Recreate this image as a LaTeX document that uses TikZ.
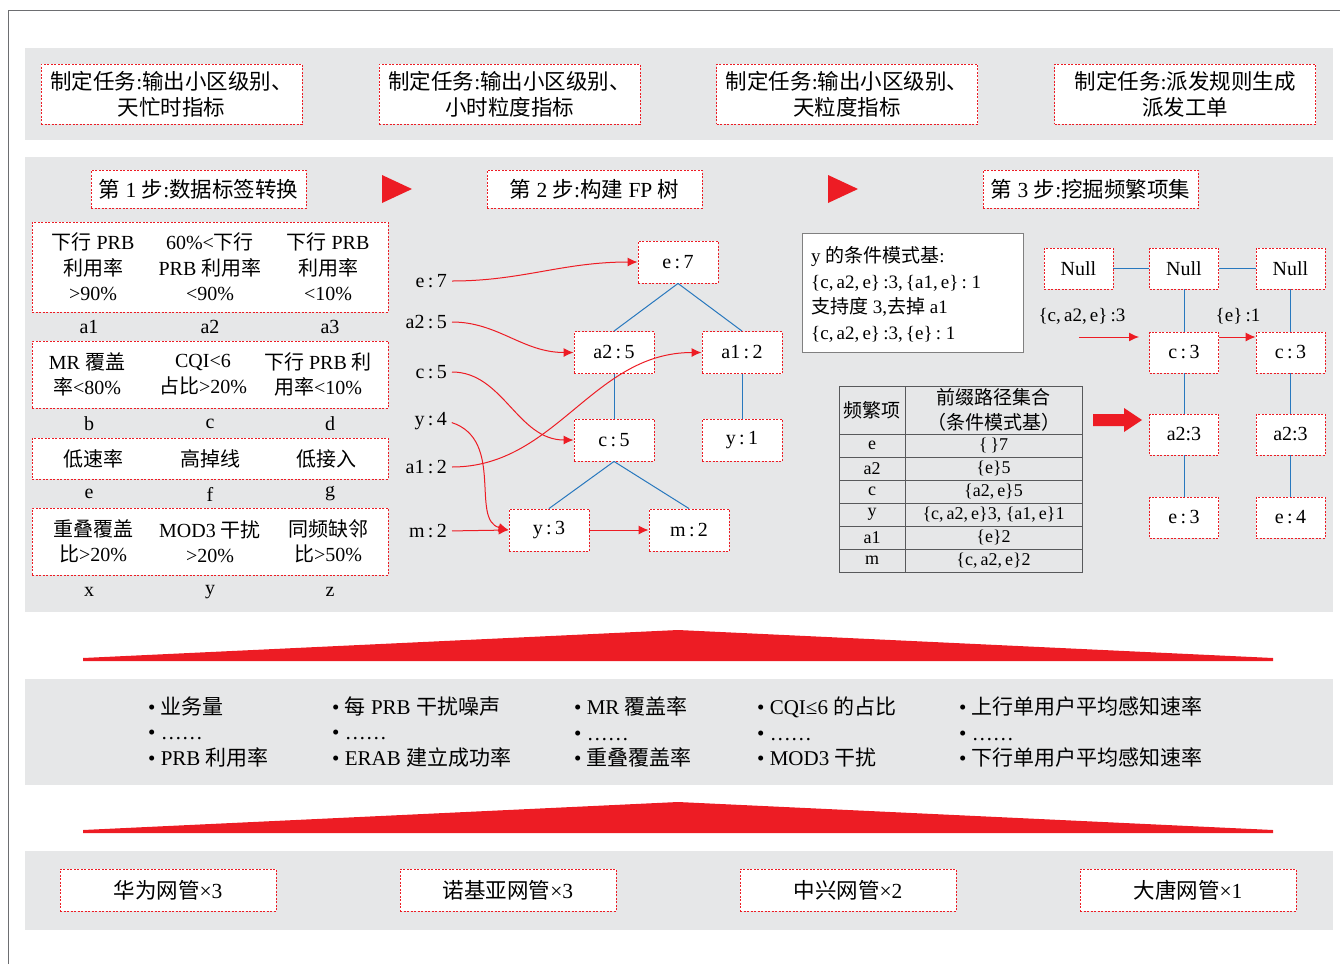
\documentclass[tikz,border=0pt]{standalone}
\usepackage{fontspec}
\setmainfont{Liberation Serif}
\newfontfamily\cjk{Noto Sans CJK SC}
\usetikzlibrary{arrows.meta}
\XeTeXinterchartokenstate=1
\newXeTeXintercharclass\CJKcls
\newcount\cjkc
\def\setcjkrange#1#2{\cjkc=#1 \loop\XeTeXcharclass\cjkc=\CJKcls\relax\ifnum\cjkc<#2 \advance\cjkc by 1 \repeat}
\setcjkrange{"3000}{"303F}
\setcjkrange{"4E00}{"9FFF}
\setcjkrange{"FF00}{"FFEF}
\XeTeXinterchartoks 0 \CJKcls = {\cjk}
\XeTeXinterchartoks 4095 \CJKcls = {\cjk}
\XeTeXinterchartoks \CJKcls 0 = {\rmfamily}
\XeTeXinterchartoks \CJKcls 4095 = {\rmfamily}
\definecolor{bandgray}{HTML}{E6E7E8}
\definecolor{myred}{HTML}{ED1C24}
\definecolor{treeblue}{HTML}{2878BE}
\definecolor{framegray}{HTML}{6D6E71}
\definecolor{tabgray}{HTML}{58595B}
\begin{document}
\begin{tikzpicture}[x=1pt,y=-1pt,
  rbox/.style={draw=myred, line width=0.9pt, dash pattern=on 2pt off 1.5pt, fill=white, inner sep=0pt, align=center},
  band/.style={fill=bandgray, draw=none},
  tl/.style={draw=treeblue, line width=1pt},
  rarr/.style={draw=myred, line width=1pt, -{Latex[length=10pt,width=9pt]}},
  big/.style={font=\fontsize{21.5}{26}\selectfont},
  mid/.style={font=\fontsize{20}{25.5}\selectfont},
  tree/.style={font=\fontsize{20}{23}\selectfont},
  tab/.style={font=\fontsize{18}{24}\selectfont},
  plain/.style={inner sep=0pt, align=center},
  fpnode/.style={rbox, tree, minimum width=80, minimum height=42},
  rtnode/.style={rbox, tree, minimum width=69, minimum height=41},
  topbox/.style={rbox, big, minimum width=261, minimum height=60},
  stepbox/.style={rbox, big, minimum width=215, minimum height=38},
  nmbox/.style={rbox, big, minimum width=216, minimum height=42},
  tabline/.style={draw=tabgray, line width=1pt},
  bullets/.style={inner sep=0pt, align=left, anchor=west, font=\fontsize{21}{25.5}\selectfont}
]
\useasboundingbox (0,0) rectangle (1340,964);
% frame
\draw[framegray, line width=1pt] (8,964) -- (8,10) -- (1340,10);
% bands
\path[band] (25,48) rectangle (1333,140);
\path[band] (25,157) rectangle (1333,612);
\path[band] (25,679) rectangle (1333,785);
\path[band] (25,851) rectangle (1333,930);
% top boxes
\node[topbox] (t1) at (171.5,94) {制定任务:输出小区级别、\\天忙时指标};
\node[topbox] (t2) at (509.5,94) {制定任务:输出小区级别、\\小时粒度指标};
\node[topbox] (t3) at (847,94) {制定任务:输出小区级别、\\天粒度指标};
\node[topbox] (t4) at (1185,94) {制定任务:派发规则生成\\派发工单};
% steps
\node[stepbox] (s1) at (198.5,189) {第 1 步:数据标签转换};
\node[stepbox] (s2) at (594.5,189) {第 2 步:构建 FP 树};
\node[stepbox] (s3) at (1090.5,189) {第 3 步:挖掘频繁项集};
\fill[myred] (382,175) -- (412,189) -- (382,203) -- cycle;
\fill[myred] (828,175) -- (858,189) -- (828,203) -- cycle;
% left label tables
\node[rbox, minimum width=356, minimum height=90] (lb1) at (210,267) {};
\node[plain,mid] (c11) at (93,267) {下行 PRB\\利用率\\>90\%};
\node[plain,mid] (c12) at (210,267) {60\%<下行\\PRB 利用率\\<90\%};
\node[plain,mid] (c13) at (328,267) {下行 PRB\\利用率\\<10\%};
\node[plain,mid] (la1) at (89,327) {a1};
\node[plain,mid] (la2) at (210,327) {a2};
\node[plain,mid] (la3) at (330,327) {a3};
\node[rbox, minimum width=356, minimum height=67] (lb2) at (210,374.5) {};
\node[plain,mid] (c21) at (87,374.5) {MR 覆盖\\率<80\%};
\node[plain,mid] (c22) at (203,374.5) {CQI<6\\占比>20\%};
\node[plain,mid] (c23) at (318,374.5) {下行 PRB 利\\用率<10\%};
\node[plain,mid] (lb) at (89,424) {b};
\node[plain,mid] (lc) at (210,424) {c};
\node[plain,mid] (ld) at (330,424) {d};
\node[rbox, minimum width=356, minimum height=41] (lb3) at (210,458.5) {};
\node[plain,mid] (c31) at (93,459) {低速率};
\node[plain,mid] (c32) at (210,459) {高掉线};
\node[plain,mid] (c33) at (326,459) {低接入};
\node[plain,mid] (le) at (89,494) {e};
\node[plain,mid] (lf) at (210,494) {f};
\node[plain,mid] (lg) at (330,494) {g};
\node[rbox, minimum width=356, minimum height=67] (lb4) at (210,541.5) {};
\node[plain,mid] (c41) at (93,541.5) {重叠覆盖\\比>20\%};
\node[plain,mid] (c42) at (210,541.5) {MOD3 干扰\\>20\%};
\node[plain,mid] (c43) at (328,541.5) {同频缺邻\\比>50\%};
\node[plain,mid] (lx) at (89,592) {x};
\node[plain,mid] (ly) at (210,592) {y};
\node[plain,mid] (lz) at (330,592) {z};
% FP tree
\node[fpnode] (fe7) at (678,262) {e\,:\,7};
\node[fpnode] (fa25) at (614,352.5) {a2\,:\,5};
\node[fpnode] (fa12) at (742,352.5) {a1\,:\,2};
\node[fpnode] (fc5) at (614,440) {c\,:\,5};
\node[fpnode] (fy1) at (742,440) {y\,:\,1};
\node[fpnode] (fy3) at (549,530) {y\,:\,3};
\node[fpnode] (fm2) at (689,530) {m\,:\,2};
\draw[tl] (fe7.south) -- (fa25.north);
\draw[tl] (fe7.south) -- (fa12.north);
\draw[tl] (fa25.south) -- (fc5.north);
\draw[tl] (fa12.south) -- (fy1.north);
\draw[tl] (fc5.south) -- (fy3.north);
\draw[tl] (fc5.south) -- (fm2.north);
\node[plain,tree,anchor=east] (ke7) at (447,281) {e\,:\,7};
\node[plain,tree,anchor=east] (ka25) at (447,322) {a2\,:\,5};
\node[plain,tree,anchor=east] (kc5) at (447,372) {c\,:\,5};
\node[plain,tree,anchor=east] (ky4) at (447,421) {y\,:\,4};
\node[plain,tree,anchor=east] (ka12) at (447,467) {a1\,:\,2};
\node[plain,tree,anchor=east] (km2) at (447,531) {m\,:\,2};
\draw[rarr, shorten <=5pt] (ke7.east) to[out=0,in=180] (fe7.west);
\draw[rarr, shorten <=5pt] (ka25.east) to[out=0,in=180] (fa25.west);
\draw[rarr, shorten <=5pt] (kc5.east) to[out=0,in=180] (fc5.west);
\draw[rarr, shorten <=5pt] (ky4.east) .. controls (505,440) and (470,520) .. (fy3.west);
\draw[rarr, shorten <=5pt] (ka12.east) to[out=0,in=180] (fa12.west);
\draw[rarr, shorten <=5pt] (km2.east) -- (fy3.west);
\draw[rarr] (fy3.east) -- (fm2.west);
% conditional pattern base
\node[draw=gray, line width=1pt, fill=white, minimum width=221, minimum height=119, inner sep=0pt] (cpb) at (912.5,292.5) {};
\node[inner sep=0pt, align=left, anchor=west, font=\fontsize{19}{25.5}\selectfont] (cpbt) at (811,294.5)
  {y 的条件模式基:\\\{c,\,a2,\,e\}\,:3,\,\{a1,\,e\}\,:\ 1\\支持度 3,去掉 a1\\\{c,\,a2,\,e\}\,:3,\,\{e\}\,:\ 1};
% right tree
\node[rtnode] (n1) at (1078.5,268.5) {Null};
\node[rtnode] (n2) at (1184,268.5) {Null};
\node[rtnode] (n3) at (1290.5,268.5) {Null};
\node[rtnode] (c3a) at (1184,352.5) {c\,:\,3};
\node[rtnode] (c3b) at (1290.5,352.5) {c\,:\,3};
\node[rtnode] (a23a) at (1184,434.5) {a2:3};
\node[rtnode] (a23b) at (1290.5,434.5) {a2:3};
\node[rtnode] (e3) at (1184,517.5) {e\,:\,3};
\node[rtnode] (e4) at (1290.5,517.5) {e\,:\,4};
\draw[tl] (n1.east) -- (n2.west);
\draw[tl] (n2.east) -- (n3.west);
\draw[tl] (n2.south) -- (c3a.north);
\draw[tl] (c3a.south) -- (a23a.north);
\draw[tl] (a23a.south) -- (e3.north);
\draw[tl] (n3.south) -- (c3b.north);
\draw[tl] (c3b.south) -- (a23b.north);
\draw[tl] (a23b.south) -- (e4.north);
\node[plain,font=\fontsize{19}{23}\selectfont] (lab1) at (1082,316) {\{c,\,a2,\,e\}\,:3};
\node[plain,font=\fontsize{19}{23}\selectfont] (lab2) at (1238,316) {\{e\}\,:1};
\coordinate (ar1s) at (1079,337);
\coordinate (ar1e) at (1139,337);
\draw[rarr] (ar1s) -- (ar1e);
\draw[rarr] (c3a.east |- ar1s) -- (c3b.west |- ar1s);
% table
\draw[tabline] (839,386) rectangle (1082,572);
\draw[tabline] (905,386) -- (905,572);
\foreach \yy in {434,457,480,503,526,549} \draw[tabline] (839,\yy) -- (1082,\yy);
\node[plain,tab,font=\fontsize{19}{24}\selectfont] (h1) at (872,410) {频繁项};
\node[plain,tab,font=\fontsize{19}{25}\selectfont] (h2) at (993.5,410) {前缀路径集合\\（条件模式基）};
\node[plain,tab] (r1a) at (872,445.5) {e};
\node[plain,tab] (r1b) at (993.5,445.5) {\{\,\}7};
\node[plain,tab] (r2a) at (872,468.5) {a2};
\node[plain,tab] (r2b) at (993.5,468.5) {\{e\}5};
\node[plain,tab] (r3a) at (872,491.5) {c};
\node[plain,tab] (r3b) at (993.5,491.5) {\{a2,\,e\}5};
\node[plain,tab] (r4a) at (872,514.5) {y};
\node[plain,tab] (r4b) at (993.5,514.5) {\{c,\,a2,\,e\}3,\ \{a1,\,e\}1};
\node[plain,tab] (r5a) at (872,537.5) {a1};
\node[plain,tab] (r5b) at (993.5,537.5) {\{e\}2};
\node[plain,tab] (r6a) at (872,560.5) {m};
\node[plain,tab] (r6b) at (993.5,560.5) {\{c,\,a2,\,e\}2};
% block arrow
\fill[myred] (1093,414) -- (1124,414) -- (1124,408) -- (1142,420) -- (1124,432) -- (1124,426) -- (1093,426) -- cycle;
% roofs
\fill[myred] (83,658) -- (678,630) -- (1273,658) -- (1273,661) -- (83,661) -- cycle;
\fill[myred] (83,830) -- (678,802) -- (1273,830) -- (1273,833) -- (83,833) -- cycle;
% indicators
\node[bullets] (k1) at (148,732) {• 业务量\\• ……\\• PRB 利用率};
\node[bullets] (k2) at (332,732) {• 每 PRB 干扰噪声\\• ……\\• ERAB 建立成功率};
\node[bullets] (k3) at (574,732) {• MR 覆盖率\\• ……\\• 重叠覆盖率};
\node[bullets] (k4) at (757,732) {• CQI≤6 的占比\\• ……\\• MOD3 干扰};
\node[bullets] (k5) at (959,732) {• 上行单用户平均感知速率\\• ……\\• 下行单用户平均感知速率};
% network managers
\node[nmbox] (b1) at (168,890) {华为网管×3};
\node[nmbox] (b2) at (508,890) {诺基亚网管×3};
\node[nmbox] (b3) at (848,890) {中兴网管×2};
\node[nmbox] (b4) at (1188,890) {大唐网管×1};
\end{tikzpicture}
\end{document}
